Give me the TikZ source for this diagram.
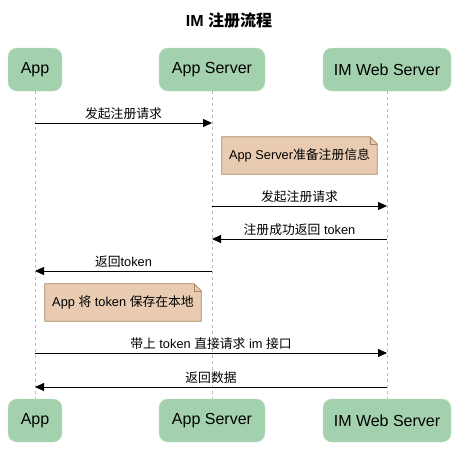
\documentclass[tikz,border=0pt]{standalone}
\usepackage{fontspec}
\setmainfont{Liberation Sans}
\newfontfamily\cjk{Noto Sans CJK SC}
\usetikzlibrary{arrows.meta}

\definecolor{actorfill}{HTML}{A3D1AD}
\definecolor{actorline}{HTML}{BBDEC3}
\definecolor{notefill}{HTML}{E8CBB0}
\definecolor{noteline}{HTML}{A6855C}
\definecolor{lifegray}{HTML}{BDBDBD}

\pgfdeclarelayer{bg}
\pgfsetlayers{bg,main}

\begin{document}
\begin{tikzpicture}[x=1pt,y=-1pt,
    actor/.style={draw=actorline, fill=actorfill, rounded corners=9pt,
      minimum height=43pt, inner sep=0pt, font=\fontsize{16}{19}\selectfont},
    msg/.style={-{Triangle[length=9pt,width=8pt]}, line width=0.8pt},
    life/.style={draw=lifegray, dash pattern=on 3pt off 3pt, line width=0.8pt},
    note/.style={minimum height=37pt, inner sep=0pt},
    notebox/.style={draw=noteline, fill=notefill, line width=0.8pt}]
    \tikzstyle{every node}=[font=\fontsize{12.8}{15}\selectfont]
    \useasboundingbox (0,0) rectangle (458,451);

    \node[font=\fontsize{16}{19}\selectfont\bfseries] (title) at (229,20) {IM {\cjk 注册流程}};

    % participants, top and bottom
    \node[actor, minimum width=54pt] (appT) at (35,69.5) {App};
    \node[actor, minimum width=106pt] (srvT) at (212,69.5) {App Server};
    \node[actor, minimum width=128pt] (imT) at (387,69.5) {IM Web Server};

    \node[actor, minimum width=54pt] (appB) at (35,420.5) {App};
    \node[actor, minimum width=106pt] (srvB) at (212,420.5) {App Server};
    \node[actor, minimum width=128pt] (imB) at (387,420.5) {IM Web Server};

    \begin{pgfonlayer}{bg}
    \draw[life] (appT) -- (appB);
    \draw[life] (srvT) -- (srvB);
    \draw[life] (imT) -- (imB);
    \end{pgfonlayer}

    % message rows
    \coordinate (r1) at (0,123);
    \coordinate (r2) at (0,206);
    \coordinate (r3) at (0,239);
    \coordinate (r4) at (0,271);
    \coordinate (r5) at (0,353);
    \coordinate (r6) at (0,387);

    \draw[msg] (appT |- r1) -- node[above] {\cjk 发起注册请求} (srvT |- r1);

    \node[note, minimum width=155pt] (prep) at (299.5,155.5) {App Server{\cjk 准备注册信息}};

    \draw[msg] (srvT |- r2) -- node[above] {\cjk 发起注册请求} (imT |- r2);
    \draw[msg] (imT |- r3) -- node[above] {{\cjk 注册成功返回} token} (srvT |- r3);
    \draw[msg] (srvT |- r4) -- node[above] {{\cjk 返回}token} (appT |- r4);

    \node[note, minimum width=156pt] (save) at (123,302.5) {App {\cjk 将} token {\cjk 保存在本地}};

    \draw[msg] (appT |- r5) -- node[above] {{\cjk 带上} token {\cjk 直接请求} im {\cjk 接口}} (imT |- r5);
    \draw[msg] (imT |- r6) -- node[above] {\cjk 返回数据} (appT |- r6);

    % folded notes
    \begin{pgfonlayer}{bg}
    \foreach \n in {prep,save} {
      \draw[notebox] (\n.north west) -- ([xshift=-7pt]\n.north east)
        -- ([yshift=-7pt]\n.north east) -- (\n.south east) -- (\n.south west) -- cycle;
      \draw[draw=noteline, line width=0.6pt] ([xshift=-7pt]\n.north east)
        -- ([xshift=-7pt,yshift=-7pt]\n.north east) -- ([yshift=-7pt]\n.north east);
    }
    \end{pgfonlayer}

\end{tikzpicture}
\end{document}
